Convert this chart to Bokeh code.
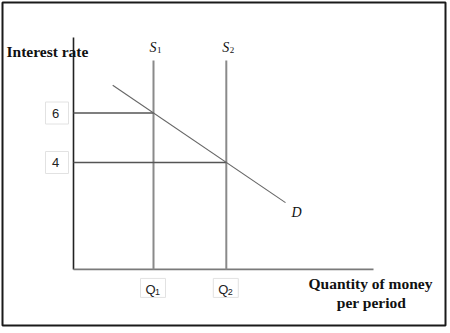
from bokeh.plotting import figure
from bokeh.models import Range1d
from bokeh.core.properties import value
from bokeh.embed import file_html
from bokeh.resources import INLINE

# ---- data (economic units) ----
rate_levels = [6, 4]
rate_labels = ["6", "4"]
q_levels = [1.0, 1.91]          # Q1, Q2 (money supply S1, S2)
q_subs = ["1", "2"]
demand_q = [0.49, 2.65]
demand_r = [7.12, 2.38]
axis_origin_q = 0.0
axis_origin_r = -0.32
axis_q_end = 3.75
axis_r_end = 9.05
supply_top = 8.12

W, H = 450, 333
# screen scales (px per unit) implied by the ranges below
XS, YS = 80.0, 24.75
X0_PX, Y0_PX = 73.0, 261.0      # pixel of q=0 and r=0


def qx(px):
    return (px - X0_PX) / XS


def ry(py):
    return (Y0_PX - py) / YS


ML, MT, MR, MB = 2, 2, 5, 8
p = figure(width=W, height=H, output_backend="svg", toolbar_location=None,
           x_range=Range1d(qx(ML), qx(W - MR)), y_range=Range1d(ry(H - MB), ry(MT)),
           min_border_left=ML, min_border_top=MT, min_border_right=MR, min_border_bottom=MB)
p.xaxis.visible = False
p.yaxis.visible = False
p.grid.visible = False
p.outline_line_color = "#1a1a1a"
p.outline_line_width = 2
p.background_fill_color = "white"
p.border_fill_color = "white"

serif = value("Liberation Serif")
sans = value("Liberation Sans")

# axes
p.line([axis_origin_q, axis_origin_q], [axis_origin_r, axis_r_end], line_color="#222222", line_width=1.6)
p.line([axis_origin_q, axis_q_end], [axis_origin_r, axis_origin_r], line_color="#7a7a7a", line_width=1.6)

# supply lines
for q in q_levels:
    p.line([q, q], [axis_origin_r, supply_top], line_color="#8a8a8a", line_width=2)

# horizontal rate lines
for r, q in zip(rate_levels, q_levels):
    p.line([axis_origin_q, q], [r, r], line_color="#555555", line_width=1.5)

# demand
p.line(demand_q, demand_r, line_color="#666666", line_width=1.1)

# y tick boxes
box_x = [axis_origin_q - 16.5 / XS] * len(rate_levels)
p.rect(x=box_x, y=rate_levels, width=23, height=22, width_units="screen", height_units="screen",
       fill_color="white", line_color="#e2e2e2", line_width=1)
p.text(x=[axis_origin_q - 18 / XS] * len(rate_levels), y=rate_levels, text=rate_labels,
       text_font=sans, text_font_size="13px", text_color="#222222",
       text_align="center", text_baseline="middle")

# x tick boxes
qb_y = axis_origin_r - 18.5 / YS
p.rect(x=[q - 0.5 / XS for q in q_levels], y=[qb_y] * 2, width=25, height=19,
       width_units="screen", height_units="screen", fill_color="white", line_color="#e2e2e2", line_width=1)
p.text(x=[q - 8 / XS for q in q_levels], y=[axis_origin_r - 20 / YS] * 2, text=["Q", "Q"],
       text_font=sans, text_font_size="13px", text_color="#222222",
       text_align="left", text_baseline="middle")
p.text(x=[q + 1.5 / XS for q in q_levels], y=[axis_origin_r - 23 / YS] * 2, text=q_subs,
       text_font=sans, text_font_size="9px", text_color="#222222",
       text_align="left", text_baseline="middle")

# supply labels
p.text(x=[q - 4 / XS for q in q_levels], y=[ry(47)] * 2, text=["S", "S"],
       text_font=serif, text_font_style="italic", text_font_size="14px", text_color="#111111",
       text_align="left", text_baseline="middle")
p.text(x=[q + 3.5 / XS for q in q_levels], y=[ry(49)] * 2, text=q_subs,
       text_font=serif, text_font_size="9px", text_color="#111111",
       text_align="left", text_baseline="middle")

# demand label
p.text(x=[demand_q[1] + 11 / XS], y=[demand_r[1] - 10 / YS], text=["D"],
       text_font=serif, text_font_style="italic", text_font_size="14px", text_color="#111111",
       text_align="center", text_baseline="middle")

# axis titles
p.text(x=[qx(6)], y=[ry(51)], text=["Interest rate"], text_font=serif, text_font_style="bold",
       text_font_size="15.5px", text_color="#111111", text_align="left", text_baseline="middle")
p.text(x=[qx(370), qx(371)], y=[ry(283), ry(302)], text=["Quantity of money", "per period"],
       text_font=serif, text_font_style="bold", text_font_size="15.5px", text_color="#111111",
       text_align="center", text_baseline="middle")

open("out.html", "w").write(file_html(p, INLINE))
